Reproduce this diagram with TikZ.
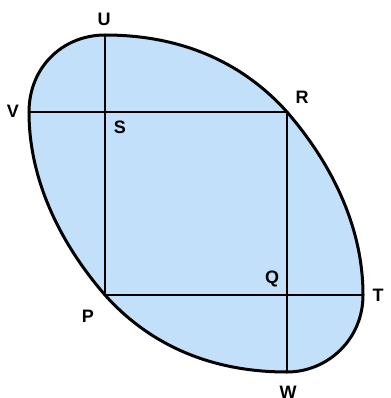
\documentclass[tikz,border=0pt]{standalone}
\usepackage{fontspec}
\setmainfont{Liberation Sans}
\definecolor{fillblue}{RGB}{195,224,250}
\tikzset{
  outline/.style={draw=black,line width=3pt,fill=fillblue,line join=round},
  chord/.style={draw=black,line width=2.4pt},
  lbl/.style={font=\fontsize{18}{20}\selectfont\bfseries,inner sep=0pt}
}
\begin{document}
\begin{tikzpicture}[x=1pt,y=-1pt]
\useasboundingbox (0,0) rectangle (390,398);
\coordinate (U) at (105,35);
\coordinate (V) at (29,112);
\coordinate (R) at (287,112);
\coordinate (S) at (105,112);
\coordinate (P) at (105,295);
\coordinate (Q) at (287,295);
\coordinate (T) at (363,295);
\coordinate (W) at (287,372);
\path[outline] (U) .. controls (185,35) and (245,65) .. (R)
  .. controls (320,150) and (363,215) .. (T)
  .. controls (363,340) and (327,372) .. (W)
  .. controls (207,372) and (147,342) .. (P)
  .. controls (72,257) and (29,192) .. (V)
  .. controls (29,67) and (63,35) .. (U) -- cycle;
\draw[chord] (U) -- (P);
\draw[chord] (V) -- (R);
\draw[chord] (R) -- (W);
\draw[chord] (P) -- (T);
\node[lbl] (lU) at (104,19) {U};
\node[lbl] (lV) at (13,111) {V};
\node[lbl] (lR) at (302,97) {R};
\node[lbl] (lS) at (120,127) {S};
\node[lbl] (lQ) at (272,279) {Q};
\node[lbl] (lT) at (378,295) {T};
\node[lbl] (lP) at (88,316) {P};
\node[lbl] (lW) at (288,392) {W};
\end{tikzpicture}
\end{document}
